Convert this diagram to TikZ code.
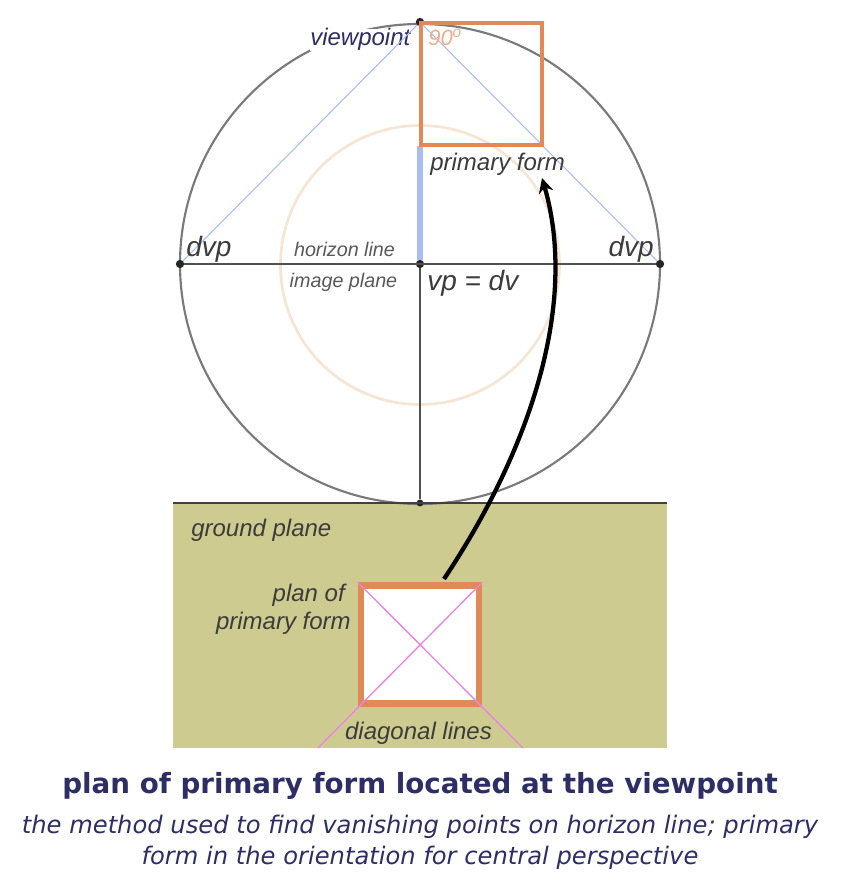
\documentclass[tikz,border=0pt]{standalone}
\usepackage{fontspec}
\usetikzlibrary{arrows.meta}
\setmainfont{Liberation Sans}
\newfontfamily\capfont{DejaVu Sans}
\definecolor{navy}{HTML}{2E2E66}
\definecolor{ink}{HTML}{3C3C3C}
\definecolor{greyline}{HTML}{7A7A7A}
\definecolor{darkline}{HTML}{505050}
\definecolor{orangeline}{HTML}{E08A58}
\definecolor{paleorange}{HTML}{F6E5D3}
\definecolor{blueline}{HTML}{AABDF0}
\definecolor{pinkline}{HTML}{EE82E6}
\definecolor{groundcol}{HTML}{CDCB8F}
\tikzset{pt/.style = {circle, fill=black!85, minimum size=6.2pt, inner sep=0pt},
           lb/.style = {inner sep=0pt, text=ink, font=\itshape\fontsize{18}{21}\selectfont},
           sm/.style = {inner sep=0pt, text=ink!85, font=\itshape\fontsize{14.8}{17}\selectfont},
           bg/.style = {inner sep=0pt, text=ink, font=\itshape\fontsize{21}{24}\selectfont},
           fo/.style = {draw=orangeline, line width=3.2pt, minimum size=91pt, inner sep=0pt},
           cp/.style = {inner sep=0pt, anchor=base, text=navy, font=\capfont\itshape\fontsize{18.15}{21}\selectfont}}

\begin{document}
\begin{tikzpicture}[x=0.75pt, y=0.75pt, >={Stealth[length=11pt, width=11pt]}]
    \useasboundingbox (0,0) rectangle (866,892);
    \fill[white] (0,0) rectangle (866,892);
    \fill[groundcol] (173,144) rectangle (667,389);
    % points
    \coordinate (cen) at (420,628);
    \coordinate (dl) at (318,144); \coordinate (dr) at (523,144);
    \coordinate (from) at (444,313); \coordinate (tip) at (542,714);
    % circles
    \draw[greyline, line width=1.6pt] (cen) circle (240);
    \draw[paleorange, line width=2pt] (420,627) circle (139.5);
    % label with white behind
    \node[lb, text=navy, fill=white, anchor=base west] (vw) at (310,846) {viewpoint};
    \node[pt] (top) at (420,870) {};
    \node[pt] (left) at (180,628) {};
    \node[pt] (right) at (660,628) {};
    \node[pt] (mid) at (420,628) {};
    \node[pt, minimum size=5.2pt] (bot) at (420,389) {};
    % lines
    \draw[blueline, line width=0.8pt] (top) -- (left);
    \draw[blueline, line width=0.8pt] (top) -- (right);
    \draw[blueline, line width=4.5pt] (420,746) -- (mid);
    \draw[darkline, line width=1.8pt] (left) -- (right);
    \draw[darkline, line width=1.5pt] (mid) -- (bot);
    \draw[black!75, line width=1.6pt] (173,389) -- (667,389);
    % forms
    \node[fo] (form) at (481.5,808) {};
    \node[fo, fill=white, line width=5pt, minimum size=88.5pt] (plan) at (420,247.5) {};
    \draw[pinkline, line width=1pt] (plan.north west) -- (dr);
    \draw[pinkline, line width=1pt] (plan.north east) -- (dl);
    \draw[->, line width=3.2pt, black] (from) .. controls (532,445) and (578,590) .. (tip);
    % texts
    \node[text=orangeline!70, inner sep=0pt, anchor=base west, font=\itshape\fontsize{16.5}{18}\selectfont] (ang) at (428,846) {90\textsuperscript{o}};
    \node[lb, anchor=base west] (pf) at (430,721) {primary form};
    \node[bg, anchor=base west] (dvpl) at (186,635) {dvp};
    \node[bg, anchor=base east] (dvpr) at (654,635) {dvp};
    \node[sm, anchor=base] (hl) at (344.5,635) {horizon line};
    \node[sm, anchor=base] (ip) at (343.5,604) {image plane};
    \node[bg, anchor=base west] (vp) at (427,601) {vp = dv};
    \node[lb, anchor=base west] (gp) at (191,355) {ground plane};
    \node[lb, anchor=base east] (pl1) at (345,290) {plan of};
    \node[lb, anchor=base east] (pl2) at (351,262) {primary form};
    \node[lb, anchor=base] (dg) at (418.5,152) {diagonal lines};
    % caption
    \node[inner sep=0pt, anchor=base, text=navy, font=\capfont\bfseries\fontsize{20.8}{24}\selectfont] (ttl) at (420,98) {plan of primary form located at the viewpoint};
    \node[cp] (sub1) at (420,58) {the method used to find vanishing points on horizon line; primary};
    \node[cp] (sub2) at (420,27) {form in the orientation for central perspective};
\end{tikzpicture}
\end{document}
